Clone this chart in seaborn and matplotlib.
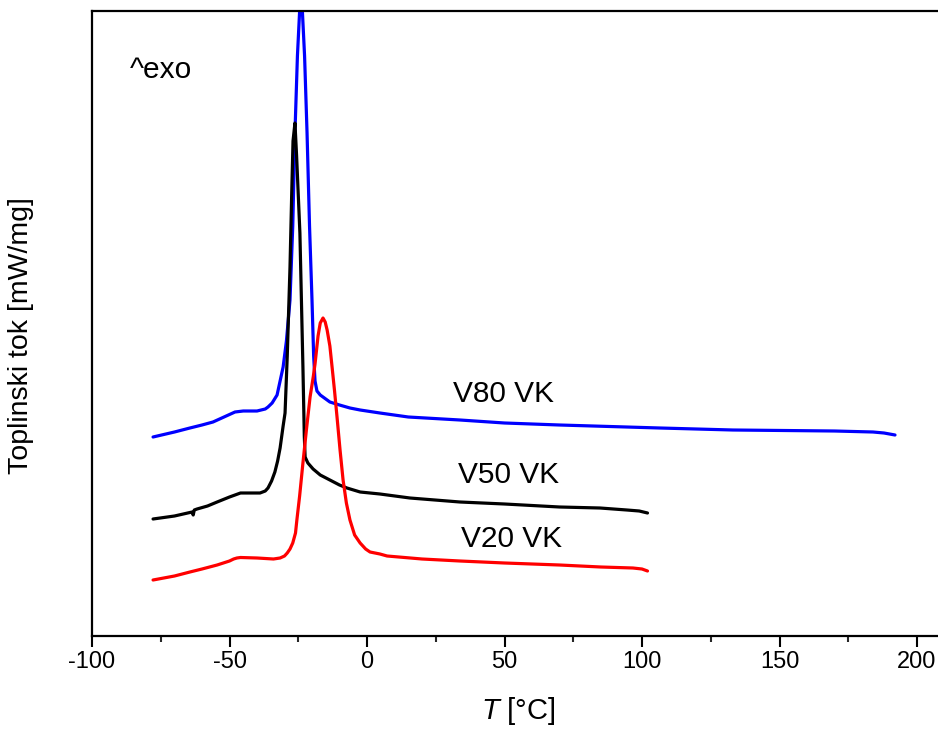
import numpy as np
import pandas as pd
import seaborn as sns
import matplotlib
matplotlib.use("Agg")
import matplotlib.pyplot as plt
from matplotlib.ticker import MultipleLocator

# DSC curves (T in degC, heat flow in arbitrary units)
t_v80 = [-77.8, -70, -64.4, -60, -56, -52, -48, -45, -40, -37, -36, -34.5, -32.7,
         -31.6, -30.5, -29.3, -28, -27, -26.2, -25.3, -24.5, -24, -23.5, -22.7,
         -21.8, -20.9, -20, -19.4, -18.9, -18.2, -17, -16, -13.5, -10, -6.2, -2.5,
         4.7, 15, 33.8, 50, 70, 106.5, 133, 170, 184, 188, 192]
y_v80 = [1.99, 2.04, 2.08, 2.11, 2.14, 2.19, 2.24, 2.25, 2.25, 2.27, 2.29, 2.33, 2.41,
         2.55, 2.69, 2.95, 3.36, 4.1, 5.03, 5.8, 6.25, 6.35, 6.25, 5.8,
         5.03, 4.1, 3.36, 2.8, 2.55, 2.45, 2.41, 2.39, 2.34, 2.31, 2.28, 2.26,
         2.23, 2.19, 2.16, 2.13, 2.11, 2.08, 2.06, 2.05, 2.04, 2.03, 2.01]

t_v50 = [-77.8, -70, -63.6, -63.2, -62.8, -61.8, -58, -54.5, -50, -46, -42, -38.9,
         -37, -36, -34.7, -33.5, -32.5, -31.6, -30.5, -29.8, -29, -28, -27.4, -26.9,
         -26.2, -25.6, -24.4, -23.3, -22.8, -22.5, -21.5, -19.6, -17, -13.5, -10,
         -7.3, -2.5, 4.7, 15.6, 33.8, 50, 70, 84.7, 94.5, 99, 102]
y_v50 = [1.17, 1.20, 1.24, 1.21, 1.26, 1.27, 1.30, 1.34, 1.39, 1.43, 1.43, 1.43,
         1.45, 1.48, 1.55, 1.64, 1.75, 1.88, 2.1, 2.23, 2.8, 3.69, 4.4, 4.95,
         5.13, 4.8, 4.03, 2.69, 2.0, 1.79, 1.73, 1.67, 1.61, 1.56, 1.51,
         1.48, 1.44, 1.42, 1.38, 1.34, 1.32, 1.29, 1.28, 1.26, 1.25, 1.23]

t_v20 = [-77.8, -70, -64.4, -60, -54.5, -50, -48.5, -47.3, -46, -40, -34, -31.6,
         -30, -29, -28, -27, -26, -25.5, -24.5, -23.3, -22, -20.7, -19.5, -18.9,
         -17.8, -17, -16, -15.2, -14.5, -13.5, -12.7, -11.8, -10.9, -9.8, -8.7,
         -7.5, -6.2, -4.5, -2.5, -0.5, 1.1, 4.7, 7.3, 20, 33.8, 50, 70, 85, 96.7,
         100, 102]
y_v20 = [0.56, 0.60, 0.64, 0.67, 0.71, 0.75, 0.77, 0.78, 0.785, 0.78, 0.77, 0.78,
         0.80, 0.83, 0.87, 0.93, 1.03, 1.16, 1.40, 1.73, 2.07, 2.39, 2.60, 2.72,
         3.00, 3.13, 3.18, 3.14, 3.06, 2.90, 2.69, 2.45, 2.19, 1.86, 1.56,
         1.33, 1.16, 1.01, 0.93, 0.87, 0.84, 0.82, 0.80, 0.77, 0.75, 0.73, 0.71,
         0.69, 0.68, 0.67, 0.65]

samples = ["V80 VK", "V50 VK", "V20 VK"]
colors = {"V80 VK": "#0000ff", "V50 VK": "#000000", "V20 VK": "#ff0000"}
x_ticks = [-100, -50, 0, 50, 100, 150, 200]

df = pd.concat([
    pd.DataFrame({"T": t_v80, "q": y_v80, "sample": "V80 VK"}),
    pd.DataFrame({"T": t_v50, "q": y_v50, "sample": "V50 VK"}),
    pd.DataFrame({"T": t_v20, "q": y_v20, "sample": "V20 VK"}),
], ignore_index=True)

sns.set_style("ticks")
plt.rcParams["font.family"] = ["Liberation Sans", "DejaVu Sans"]
plt.rcParams["mathtext.fontset"] = "custom"
plt.rcParams["mathtext.it"] = "Liberation Sans:italic"
plt.rcParams["mathtext.rm"] = "Liberation Sans"
plt.rcParams["axes.unicode_minus"] = False
plt.rcParams["text.color"] = "black"
plt.rcParams["axes.labelcolor"] = "black"

fig = plt.figure(figsize=(9.38, 7.29), dpi=100)
W, H = 938, 729
ax = fig.add_axes([92 / W, (H - 636) / H, (944.5 - 92) / W, (636 - 11) / H])

sns.lineplot(data=df, x="T", y="q", hue="sample", hue_order=samples, palette=colors,
             estimator=None, sort=False, linewidth=2.3, legend=False, ax=ax)
for line in ax.lines:
    line.set_solid_joinstyle("round")

ax.set_xlim(-100, 210)
ax.set_ylim(0, 6.25)
ax.set_xticks(x_ticks)
ax.xaxis.set_minor_locator(MultipleLocator(25))
ax.set_yticks([])
ax.tick_params(axis="x", which="major", length=8, width=1.5, direction="out",
               labelsize=17, pad=3, colors="black")
ax.tick_params(axis="x", which="minor", length=4.5, width=1.5, direction="out")
for side in ["left", "bottom", "top"]:
    ax.spines[side].set_linewidth(1.6)
    ax.spines[side].set_color("black")
ax.spines["right"].set_visible(False)

ax.set_xlabel("$T$ [°C]", fontsize=21)
ax.xaxis.set_label_coords(0.5, -0.094)
ax.set_ylabel("Toplinski tok [mW/mg]", fontsize=20.5)
ax.yaxis.set_label_coords(-0.068, 0.48)

ax.text(49.5, 2.34, "V80 VK", fontsize=21.5, ha="center", va="baseline")
ax.text(51.3, 1.53, "V50 VK", fontsize=21.5, ha="center", va="baseline")
ax.text(52.4, 0.89, "V20 VK", fontsize=21.5, ha="center", va="baseline")
ax.text(-86.2, 5.58, "^exo", fontsize=21.5, ha="left", va="baseline")

fig.savefig("out.png", dpi=100)
